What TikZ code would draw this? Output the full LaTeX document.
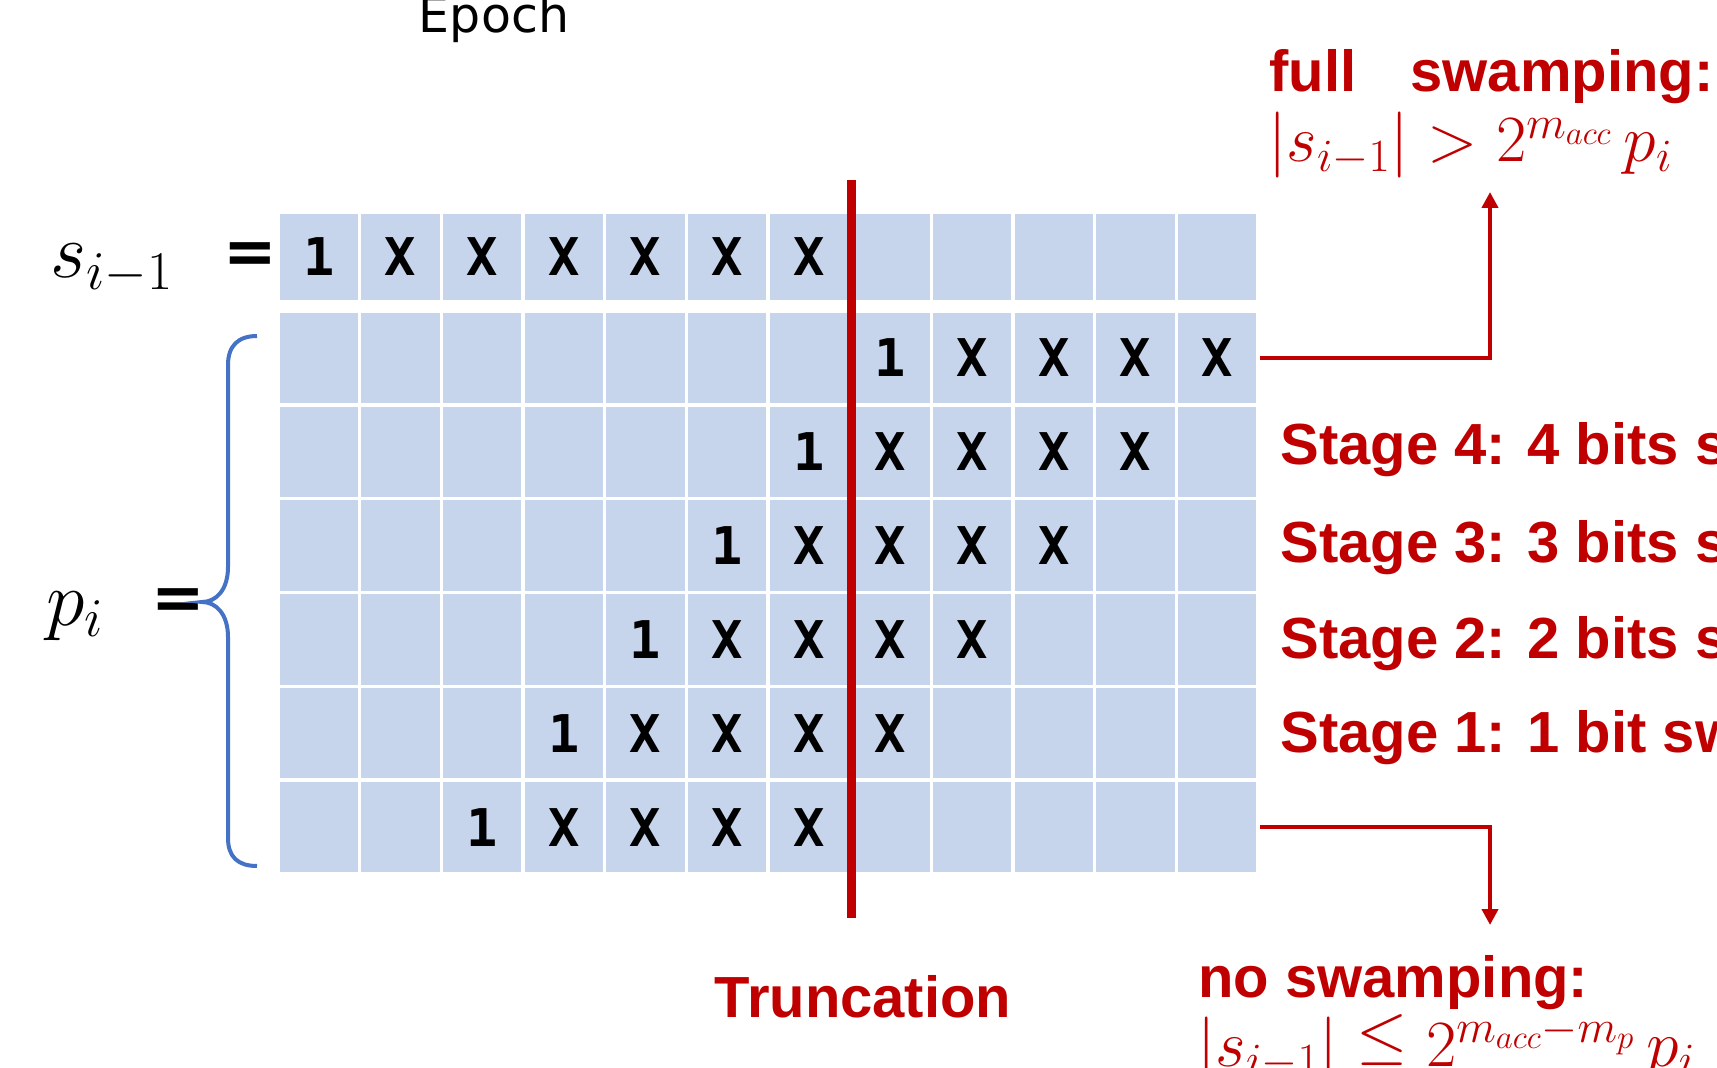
\RequirePackage{fix-cm}
\documentclass[tikz,border=0pt]{standalone}
\usepackage[no-math]{fontspec}
\setmainfont{Liberation Sans}
\newfontfamily\cellfnt{DejaVu Sans Mono}
\newfontfamily\epochfnt{DejaVu Sans}
\usetikzlibrary{arrows.meta}
\definecolor{cellblue}{HTML}{C7D5EC}
\definecolor{darkred}{HTML}{C00000}
\definecolor{braceblue}{HTML}{4472C4}
\newcommand{\lebase}{\mathrel{\raisebox{0.14em}{$\le$}}}
\begin{document}
\begin{tikzpicture}[x=0.5pt,y=-0.5pt,
  cell/.style={rectangle, inner sep=0pt, fill=cellblue, draw=white, line width=1.75pt,
    minimum width=40.83pt, font=\cellfnt\bfseries\fontsize{26}{30}\selectfont},
  srow/.style={cell, minimum height=45pt},
  prow/.style={cell, minimum height=46.92pt},
  redtext/.style={text=darkred, font=\bfseries\fontsize{29}{34}\selectfont, inner sep=0pt, anchor=base west},
  redmath/.style={text=darkred, font=\fontsize{33}{38}\selectfont, inner sep=0pt, anchor=base west},
  conn/.style={draw=darkred, line width=2pt, -{Triangle[length=8pt,width=8pt]}},
  trunc/.style={draw=darkred, line width=4.5pt},
  bracestyle/.style={draw=braceblue, line width=2pt},
  mathlabel/.style={anchor=base west, inner sep=0pt, font=\fontsize{39}{45}\selectfont},
  eqsign/.style={anchor=center, inner sep=0pt, font=\epochfnt\bfseries\fontsize{32}{36}\selectfont},
]
\clip (0,0) rectangle (1717,1068);

% s_{i-1} row
\foreach \j in {1,...,12}{
  \ifnum\j=1 \def\t{1}\else\ifnum\j<8 \def\t{X}\else\def\t{}\fi\fi
  \node[srow] (s\j) at ({278+(\j-0.5)*81.67},257) {\t};
}
% p_i rows
\foreach \k in {1,...,6}{
  \foreach \j in {1,...,12}{
    \pgfmathtruncatemacro{\d}{\j-(9-\k)}
    \ifnum\d=0 \def\t{1}\else\ifnum\d>0 \ifnum\d<5 \def\t{X}\else\def\t{}\fi\else\def\t{}\fi\fi
    \node[prow] (p\k-\j) at ({278+(\j-0.5)*81.67},{311+(\k-0.5)*93.83}) {\t};
  }
}

% truncation line
\coordinate (trtop) at (851,180);
\coordinate (trbot) at (851,918);
\draw[trunc] (trtop) -- (trbot);

% labels left
\node[anchor=base, inner sep=0pt, font=\epochfnt\fontsize{24.5}{28}\selectfont] (epoch) at (494,33) {Epoch};
\node[mathlabel] (slabel) at (50,278) {$s_{i-1}$};
\node[eqsign] (seq) at (250,258) {=};
\node[mathlabel] (plabel) at (46,625) {$p_i$};
\node[eqsign] (peq) at (178,604) {=};

% brace
\draw[bracestyle] (257,336) .. controls (238,336) and (228,346) .. (228,365) -- (228,567)
  .. controls (228,590) and (216,602) .. (202,602)
  .. controls (216,602) and (228,614) .. (228,637) -- (228,838)
  .. controls (228,857) and (238,866) .. (257,866);

% right texts
\node[redtext] (fullsw) at (1269,92) {full\hspace{27pt}swamping:};
\node[redmath] (fullf) at (1268,162) {$|s_{i-1}| > 2^{m_{acc}}\,p_i$};
\node[redtext] (st4) at (1280,465) {Stage 4: 4 bits swamping};
\node[redtext] (st3) at (1280,563) {Stage 3: 3 bits swamping};
\node[redtext] (st2) at (1280,658) {Stage 2: 2 bits swamping};
\node[redtext] (st1) at (1280,752) {Stage 1: 1 bit swamping};
\node[redtext, anchor=base] (trunclabel) at (863,1017) {Truncation};
\node[redtext] (nosw) at (1198,997) {no swamping:};
\node[redmath] (nof) at (1197,1066) {$|s_{i-1}| \lebase 2^{m_{acc}-m_p}\,p_i$};

% connectors
\coordinate (uptip) at (1490,192);
\coordinate (downtip) at (1490,925);
\draw[conn] (p1-12.east) -| (uptip);
\draw[conn] (p6-12.east) -| (downtip);
\end{tikzpicture}
\end{document}
